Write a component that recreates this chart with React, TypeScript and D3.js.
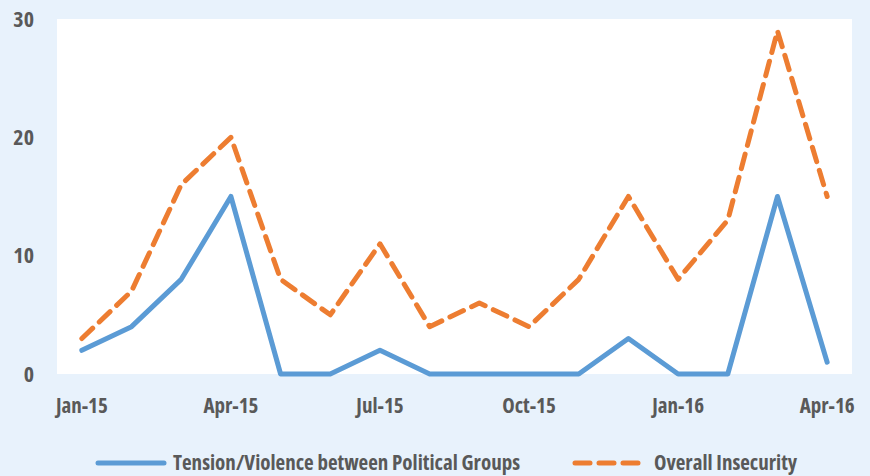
import React, { useEffect, useRef } from 'react';
import * as d3 from 'd3';

const months = [
  'Jan-15', 'Feb-15', 'Mar-15', 'Apr-15', 'May-15', 'Jun-15', 'Jul-15', 'Aug-15',
  'Sep-15', 'Oct-15', 'Nov-15', 'Dec-15', 'Jan-16', 'Feb-16', 'Mar-16', 'Apr-16',
];
const tensionValues = [2, 4, 8, 15, 0, 0, 2, 0, 0, 0, 0, 3, 0, 0, 15, 1];
const insecurityValues = [3, 7, 16, 20, 8, 5, 11, 4, 6, 4, 8, 15, 8, 13, 29, 15];
const xTickLabels = ['Jan-15', 'Apr-15', 'Jul-15', 'Oct-15', 'Jan-16', 'Apr-16'];
const yTicks = [0, 10, 20, 30];

const App = () => {
  const ref = useRef<SVGSVGElement>(null);

  useEffect(() => {
    const width = 870, height = 476;
    const m = { left: 57, right: 18, top: 19, bottom: 102 };
    const font = '"Open Sans", sans-serif';
    const textColor = '#595959';
    const dash = '15 9';

    const svg = d3.select(ref.current);
    svg.selectAll('*').remove();

    svg.append('rect').attr('width', width).attr('height', height).attr('fill', '#e8f2fc');

    const x = d3.scaleBand().domain(months).range([m.left, width - m.right]);
    const y = d3.scaleLinear().domain([0, 30]).range([height - m.bottom, m.top]);
    const cx = (d: string) => (x(d) as number) + x.bandwidth() / 2;

    svg.append('rect')
      .attr('x', m.left)
      .attr('y', m.top)
      .attr('width', width - m.left - m.right)
      .attr('height', height - m.top - m.bottom)
      .attr('fill', '#ffffff');

    const label = (tx: number, ty: number, txt: string, size: number, anchor = 'start') =>
      svg.append('text')
        .attr('x', tx)
        .attr('y', ty)
        .attr('dy', '0.35em')
        .attr('text-anchor', anchor)
        .style('font-family', font)
        .style('font-stretch', '75%')
        .style('font-weight', 'bold')
        .style('font-size', `${size}px`)
        .style('fill', textColor)
        .text(txt);

    yTicks.forEach(t => label(34, y(t), String(t), 22, 'end'));
    xTickLabels.forEach(t => label(cx(t), 406, t, 21, 'middle'));

    const line = d3.line<number>()
      .x((_, i) => cx(months[i]))
      .y(d => y(d));

    svg.append('path')
      .datum(insecurityValues)
      .attr('d', line)
      .attr('fill', 'none')
      .attr('stroke', '#ed7d31')
      .attr('stroke-width', 5)
      .attr('stroke-linecap', 'round')
      .attr('stroke-linejoin', 'round')
      .attr('stroke-dasharray', dash);

    svg.append('path')
      .datum(tensionValues)
      .attr('d', line)
      .attr('fill', 'none')
      .attr('stroke', '#5b9bd5')
      .attr('stroke-width', 5)
      .attr('stroke-linecap', 'round')
      .attr('stroke-linejoin', 'round');

    // legend
    const legY = 463;
    svg.append('line')
      .attr('x1', 98).attr('x2', 164)
      .attr('y1', legY).attr('y2', legY)
      .attr('stroke', '#5b9bd5')
      .attr('stroke-width', 5)
      .attr('stroke-linecap', 'round');
    label(173, legY, 'Tension/Violence between Political Groups', 21);

    svg.append('line')
      .attr('x1', 575).attr('x2', 638)
      .attr('y1', legY).attr('y2', legY)
      .attr('stroke', '#ed7d31')
      .attr('stroke-width', 5)
      .attr('stroke-linecap', 'round')
      .attr('stroke-dasharray', dash);
    label(654, legY, 'Overall Insecurity', 21);
  }, []);

  return <svg ref={ref} width={870} height={476} style={{ position: 'absolute', left: 0, top: 0 }}></svg>;
};

export default App;
